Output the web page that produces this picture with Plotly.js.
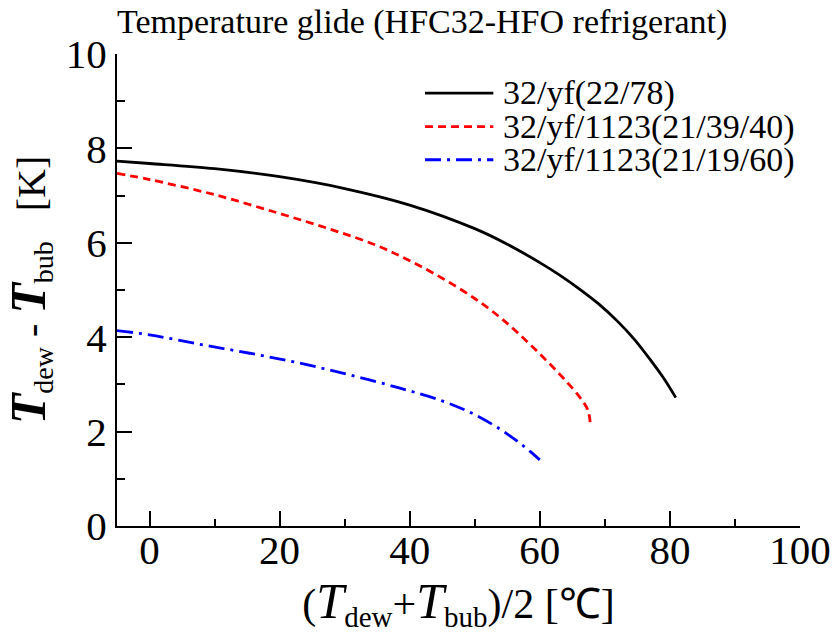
<!DOCTYPE html>
<html>
<head>
<meta charset="utf-8">
<script src="https://cdn.plot.ly/plotly-3.0.1.min.js"></script>
<style>html,body{margin:0;padding:0;background:#fff;}#chart{width:835px;height:633px;}</style>
</head>
<body>
<div id="chart"></div>
<script>
// Series 1: 32/yf(22/78)
const blackX = [-5, 0, 10, 20, 30, 40, 50, 55, 60, 63, 66, 69, 72, 74.5, 77, 79, 80.9];
const blackY = [7.73, 7.68, 7.57, 7.40, 7.15, 6.80, 6.30, 5.97, 5.58, 5.32, 5.03, 4.71, 4.33, 3.96, 3.52, 3.14, 2.72];
// Series 2: 32/yf/1123(21/39/40)
const redX = [-5, 0, 10, 20, 28.2, 35, 40, 45, 50, 53.8, 56.4, 59.0, 61.5, 64.1, 66.2, 67.4, 67.8];
const redY = [7.47, 7.34, 7.02, 6.62, 6.27, 5.94, 5.62, 5.25, 4.82, 4.43, 4.12, 3.78, 3.44, 3.06, 2.72, 2.45, 2.10];
// Series 3: 32/yf/1123(21/19/60)
const blueX = [-5, 0, 7.7, 15.4, 23.1, 30.8, 38.5, 45, 50, 53.8, 55.4, 56.9, 58.5, 60.0];
const blueY = [4.14, 4.05, 3.85, 3.66, 3.45, 3.20, 2.92, 2.65, 2.36, 2.06, 1.91, 1.76, 1.58, 1.40];
const names = ["32/yf(22/78)", "32/yf/1123(21/39/40)", "32/yf/1123(21/19/60)"];
const colors = ["#000000", "#ff0000", "#0000ff"];
const dashes = ["solid", "8px,5px", "16px,6px,3px,6px"];
const xTicks = [0, 20, 40, 60, 80, 100];
const yTicks = [0, 2, 4, 6, 8, 10];

const font = "Liberation Serif, Times New Roman, serif";
const seriesX = [blackX, redX, blueX];
const seriesY = [blackY, redY, blueY];
const traces = seriesX.map((xs, i) => ({
  x: xs, y: seriesY[i], name: names[i], mode: "lines",
  line: {color: colors[i], width: 2.8, dash: dashes[i], shape: "spline", smoothing: 1}
}));

// manual legend (line sample + label), placed in paper coordinates
const legRows = [0.917, 0.846, 0.776];
const shapes = legRows.map((yy, i) => ({
  type: "line", xref: "paper", yref: "paper", x0: 0.451, x1: 0.551, y0: yy, y1: yy,
  line: {color: colors[i], width: 2.8, dash: dashes[i]}
}));
const annotations = legRows.map((yy, i) => ({
  xref: "paper", yref: "paper", x: 0.562, y: yy, xanchor: "left", yanchor: "middle",
  text: names[i], showarrow: false, font: {family: font, size: 34, color: "#000"}
}));

const sp = "\u00A0";
const layout = {
  width: 835, height: 633,
  margin: {l: 117, r: 35, t: 54, b: 107},
  paper_bgcolor: "#ffffff", plot_bgcolor: "#ffffff",
  font: {family: font, color: "#000000", size: 30},
  title: {text: "Temperature glide (HFC32-HFO refrigerant)", x: 0, xanchor: "left", xref: "paper", y: 0.966, yanchor: "middle", font: {family: font, size: 34, color: "#000"}},
  showlegend: false,
  shapes: shapes,
  annotations: annotations,
  xaxis: {
    range: [-5, 100], tickvals: xTicks, ticks: "inside", ticklen: 15, tickwidth: 2, tickcolor: "#000",
    showline: true, linewidth: 2, linecolor: "#000", showgrid: false, zeroline: false,
    tickfont: {family: font, size: 41, color: "#000"}, ticklabelstandoff: -13,
    minor: {dtick: 10, tick0: 0, ticks: "inside", ticklen: 7, tickwidth: 2, tickcolor: "#000", showgrid: false},
    title: {text: "(<span style=\"font-size:50px\"><i>T</i></span><sub><span style=\"font-size:29px\">dew</span></sub>+<span style=\"font-size:50px\"><i>T</i></span><sub><span style=\"font-size:29px\">bub</span></sub>)/2 [℃]", font: {family: font, size: 42, color: "#000"}, standoff: 8}
  },
  yaxis: {
    range: [0, 10], tickvals: yTicks, ticks: "inside", ticklen: 15, tickwidth: 2, tickcolor: "#000",
    showline: true, linewidth: 2, linecolor: "#000", showgrid: false, zeroline: false,
    tickfont: {family: font, size: 41, color: "#000"},
    minor: {dtick: 1, tick0: 0, ticks: "inside", ticklen: 8, tickwidth: 2, tickcolor: "#000", showgrid: false},
    title: {text: "<span style=\"font-size:50px\"><b><i>T</i></b></span><sub><span style=\"font-size:28px\">dew</span></sub>" + sp + "-" + sp + "<span style=\"font-size:50px\"><b><i>T</i></b></span><sub><span style=\"font-size:28px\">bub</span></sub>" + sp + sp + sp + "[K]", font: {family: font, size: 40, color: "#000"}, standoff: 18}
  },
  xaxis2: {overlaying: "x", side: "top", anchor: "y2", range: [0, 1], tickvals: [0.5], ticks: "inside", ticklen: 15, tickwidth: 2, tickcolor: "#000", showticklabels: false, showline: true, linewidth: 2, linecolor: "#000", showgrid: false, zeroline: false},
  yaxis2: {overlaying: "y", side: "right", anchor: "x2", range: [0, 1], tickvals: [0.5], ticks: "inside", ticklen: 15, tickwidth: 2, tickcolor: "#000", showticklabels: false, showline: true, linewidth: 2, linecolor: "#000", showgrid: false, zeroline: false}
};
Plotly.newPlot("chart", traces, layout, {displayModeBar: false, staticPlot: true});
</script>
</body>
</html>
